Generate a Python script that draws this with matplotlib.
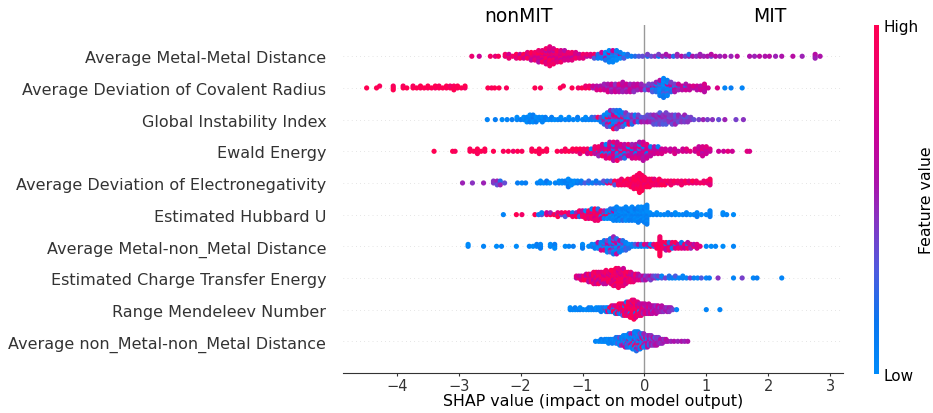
import numpy as np
import matplotlib
matplotlib.use("Agg")
import matplotlib.pyplot as plt
from matplotlib.colors import LinearSegmentedColormap
import matplotlib as mpl

features = [
    "Average Metal-Metal Distance",
    "Average Deviation of Covalent Radius",
    "Global Instability Index",
    "Ewald Energy",
    "Average Deviation of Electronegativity",
    "Estimated Hubbard U",
    "Average Metal-non_Metal Distance",
    "Estimated Charge Transfer Energy",
    "Range Mendeleev Number",
    "Average non_Metal-non_Metal Distance",
]

# Each entry: (SHAP value, [normalized feature values of the samples read at that SHAP value])
ammd = [(-2.79,[.85]),(-2.67,[.7]),(-2.49,[.9]),(-2.41,[.8]),(-2.36,[.95]),
 (-2.25,[.8,.9]),(-2.19,[.95,.7,.85]),(-2.13,[.9]),(-2.07,[.75,1,.8]),(-2.01,[.85,.65,.95]),(-1.95,[.9,1,.75]),
 (-1.89,[.85,.6,.95,.8]),(-1.83,[.7,.9,.8,1,.65]),(-1.77,[.95,.8,.7,.9,.85]),(-1.71,[.8,.9,.7,1,.75,.85,.6]),
 (-1.65,[.9,.75,.85,1,.7,.8,.95]),(-1.59,[.8,.7,.9,.85,1,.6,.75,.9,.8]),(-1.53,[.85,.95,.7,.8,.9,.65,1,.75,.85,.8,.9]),
 (-1.47,[.9,.8,.7,.85,.95,.6,.8,.75,.9]),(-1.41,[.8,.9,.75,.85,.7,.95,.8]),(-1.35,[.85,.7,.9,.8,.65,.75,.9]),
 (-1.29,[.8,.9,.7,.85,.75,.6]),(-1.23,[.9,.8,.7,.85,.75]),(-1.17,[.75,.85,.6,.9,.8]),(-1.11,[.8,.7,.9,.75]),
 (-1.05,[.85,.65,.8]),(-0.99,[.7,.9,.8]),(-0.93,[.6,.85]),(-0.87,[.7,.8]),(-0.81,[.55,.9,.3]),(-0.75,[.6,.2,.1]),
 (-0.69,[.05,.3,.1,.7]),(-0.63,[.1,.05,.6,.0,.2]),(-0.57,[.0,.1,.05,.8,.15,.0,.05]),(-0.51,[.05,.0,.1,.2,.0,.7,.05]),
 (-0.45,[.1,.0,.05,.3,.0,.1]),(-0.39,[.05,.7,.0,.1]),(-0.33,[.1,.0,.3]),(-0.27,[.05,.2]),(-0.21,[.1]),(-0.15,[.2]),
 (-0.09,[.3]),(-0.03,[.35]),(0.05,[.2,.4]),(0.11,[.35]),(0.17,[.45]),(0.23,[.1,.4]),(0.29,[.5]),(0.35,[.35,.55]),
 (0.41,[.55]),(0.47,[.2]),(0.53,[.45,.5]),(0.6,[.6]),(0.66,[.4]),(0.72,[.5,.2]),(0.78,[.55]),(0.84,[.45]),(0.9,[.6,.5]),
 (0.96,[.5]),(1.02,[.55]),(1.08,[.4,.6]),(1.15,[.6]),(1.22,[.5]),(1.3,[.55]),(1.4,[.5]),(1.5,[.6]),(1.7,[.55]),
 (1.78,[.5]),(1.86,[.6]),(1.95,[.55]),(2.02,[.6]),(2.12,[.5]),(2.22,[.55]),(2.4,[.6]),(2.55,[.5]),(2.76,[.55,.6,.5]),(2.84,[.55])]

adcr = [(-4.49,[1]),(-4.33,[1]),(-4.28,[.95]),(-4.06,[1,.95,1]),(-3.9,[1,.95]),(-3.84,[1]),(-3.74,[1,.95]),(-3.68,[1]),
 (-3.62,[.95,1]),(-3.56,[1]),(-3.5,[.95,1]),(-3.44,[1]),(-3.38,[.9,1]),(-3.32,[1,.95]),(-3.26,[1]),(-3.2,[.95,1]),
 (-3.14,[1,.9]),(-3.08,[1,.95,1]),(-3.02,[.95,1]),(-2.96,[1]),(-2.9,[.9,1]),
 (-2.53,[1]),(-2.47,[.95]),(-2.42,[1]),(-2.35,[1]),(-2.23,[.95]),(-1.77,[1]),(-1.68,[.95]),(-1.36,[1]),(-1.31,[.95]),
 (-1.17,[1]),(-1.07,[.9]),(-1.01,[1]),(-0.95,[.95,.85]),(-0.89,[1,.9]),
 (-0.83,[.5,.7]),(-0.77,[.45,.6,.75]),(-0.71,[.5,.55,.8]),(-0.65,[.45,.6,.7,.5]),(-0.59,[.5,.4,.65,.55,.75]),
 (-0.53,[.5,.6,.45,.7,.55]),(-0.47,[.75,.5,.6,.45,.7]),(-0.41,[.55,.65,.5,.8,.6]),(-0.35,[.45,.7,.55,.65,.5,.6]),
 (-0.29,[.8,.6,.45,.7,.55]),(-0.23,[.55,.6,.75,.5,.65]),(-0.17,[.5,.7,.55,.6,.45]),(-0.11,[.6,.75,.5,.65]),
 (-0.05,[.7,.55,.6,.5]),(0.01,[.6,.45,.3]),(0.07,[.7,.2,.55,.4]),(0.13,[.1,.65,.05,.4,.3]),(0.19,[.0,.6,.1,.05,.2,.5]),
 (0.25,[.0,.1,.05,.3,.0,.15,.05,.6,.1]),(0.31,[.0,.05,.1,.0,.2,.05,.3,.0,.1,.05,.15]),(0.37,[.05,.0,.1,.7,.05,.0,.3,.1,.05]),
 (0.43,[.1,.55,.05,.65,.2,.4]),(0.49,[.6,.05,.7,.4,.55]),(0.55,[.65,.2,.5,.7]),(0.61,[.4,.7,.6]),(0.67,[.6,.1,.7,.55]),
 (0.73,[.5,.7,.65]),(0.79,[.55,.75]),(0.85,[.65,.7,.6]),(0.91,[.75,.6,.7]),(0.97,[.8,.65,.7,.75,.6]),(1.03,[.7]),
 (1.18,[.75]),(1.3,[.05]),(1.4,[.1]),(1.58,[.05])]

gii = [(-2.54,[.05]),(-2.41,[.1]),(-2.3,[0]),(-2.22,[.05]),(-2.14,[.1]),(-2.06,[.05,0]),(-2.0,[.1]),(-1.95,[.05,0]),
 (-1.9,[.1,.05,0]),(-1.85,[0,.05,.1,0]),(-1.8,[.05,.15,0,.1]),(-1.75,[.05,0,.1]),(-1.7,[0,.05]),(-1.65,[.1,0,.05]),
 (-1.6,[.05,.1]),(-1.55,[0]),(-1.5,[.05,.1]),(-1.45,[0]),(-1.4,[.05]),(-1.35,[.1,0]),(-1.28,[.05]),(-1.22,[.1,0]),
 (-1.15,[.05]),(-1.08,[0,.1]),(-1.0,[.05]),(-0.95,[.1,0]),(-0.9,[.05]),(-0.85,[.1,.2]),(-0.8,[.05,.3]),(-0.75,[.1,.9]),
 (-0.7,[.05,.4,.1]),(-0.65,[.9,.1,.5,.05,.2]),(-0.6,[.05,1,.3,.1,.6,.0,.4]),(-0.55,[.1,.7,.05,.35,.9,.0,.2,.5]),
 (-0.5,[.0,.45,.1,.8,.05,.6,.15,.3,1]),(-0.45,[.1,.5,.05,.9,.3,.0,.7,.2,.4]),(-0.4,[.05,.6,.35,.0,.8,.15,.5,.1]),
 (-0.35,[.2,.9,.05,.4,.6,.1,.3]),(-0.3,[.5,.1,.7,.35,.05,.45]),(-0.25,[.4,.05,.6,.3,.9]),(-0.2,[.1,.5,.35,.45,.2]),
 (-0.15,[.45,.3,.6,.1]),(-0.1,[.35,.5,.2,.4]),(-0.05,[.4,.3,.55]),(0.0,[.45,.35,.5]),(0.05,[.3,.4,.55,.35]),
 (0.1,[.45,.35,.5,.4]),(0.15,[.4,.3,.45,.5,.35]),(0.2,[.35,.5,.4,.45,.3]),(0.25,[.45,.4,.35,.55,.4,.3]),
 (0.3,[.4,.5,.35,.45,.3]),(0.35,[.35,.45,.4,.5,.3,.4]),(0.4,[.5,.35,.45,.4]),(0.45,[.3,.4,.5,.45,.35]),
 (0.5,[.45,.35,.4,.3,.5]),(0.55,[.4,.45,.35,.5]),(0.6,[.35,.4,.45]),(0.65,[.45,.3,.4,.5]),(0.7,[.4,.35,.45]),
 (0.75,[.45,.4]),(0.8,[.35]),(0.88,[.4]),(0.95,[.5]),(1.02,[.4]),(1.1,[.45]),(1.2,[.35]),(1.3,[.5]),(1.48,[.4]),(1.6,[.45])]

ewald = [(-3.4,[1]),(-3.1,[1]),(-3.06,[.95]),(-2.82,[1,.95]),(-2.76,[1]),(-2.7,[.9,1,.95]),(-2.64,[1]),(-2.58,[.95,1]),
 (-2.44,[1]),(-2.28,[.95]),(-2.2,[1]),(-2.12,[.9]),(-2.05,[1]),(-1.98,[.95]),(-1.82,[1,.95]),(-1.76,[1]),(-1.7,[.9,1,.95]),
 (-1.64,[1]),(-1.58,[.95,1]),(-1.41,[1]),(-1.34,[.9]),(-1.28,[1,.95]),(-1.22,[1]),(-1.16,[.85,1]),(-1.1,[.9,1]),
 (-1.04,[.95,1,.8]),(-0.98,[1,.9]),(-0.92,[.85,.95,.7]),(-0.86,[.8,.1,.9]),(-0.8,[.7,.95,.6,.85]),(-0.74,[.2,.8,.7,.9,.5]),
 (-0.68,[.85,.6,.1,.75,.95,.7]),(-0.62,[.7,.9,.3,.6,.8,.05,.75]),(-0.56,[.65,.85,.1,.7,.5,.8,.9,.6]),
 (-0.5,[.75,.2,.7,.55,.8,.1,.65,.85,.6]),(-0.44,[.6,.8,.05,.7,.45,.75,.15,.65,.9]),(-0.38,[.7,.3,.85,.6,.1,.75,.5]),
 (-0.32,[.65,.8,.1,.7,.55,.6,.2]),(-0.26,[.6,.75,.45,.1,.7,.8]),(-0.2,[.7,.15,.65,.8,.6,.5,.75]),
 (-0.14,[.75,.6,.1,.7,.65,.55,.8]),(-0.08,[.6,.3,.7,.8,.65,.1,.75,.55]),(-0.02,[.7,.6,.75,.1,.65,.8,.55,.7,.6]),
 (0.04,[.65,.75,.15,.7,.6,.8,.7]),(0.1,[.7,.6,.75,.1,.65]),(0.16,[.8,.65,.7,.6]),(0.22,[.7,.65,.75,.1]),(0.28,[.6,.7,.75]),
 (0.34,[.75,.7]),(0.42,[.7,.65]),(0.49,[.8,.7,.75]),(0.55,[.65]),(0.62,[.75,.7]),(0.68,[.7,.8]),(0.74,[.8]),
 (0.82,[.65,.75]),(0.88,[.75,.7,.8,.65]),(0.94,[.7,.8,.6,.75,.7]),(1.0,[.75,.65,.7,.8]),(1.06,[.65,.75]),(1.2,[.7]),
 (1.28,[.7]),(1.35,[.8]),(1.42,[.7]),(1.66,[.8]),(1.7,[.75])]

ade = [(-2.94,[.5]),(-2.78,[.45]),(-2.6,[.5]),(-2.44,[.4,.45]),(-2.38,[.3,.5,.35]),(-2.33,[.45,.2,.5]),(-2.26,[.35]),
 (-2.05,[.1]),(-1.98,[.05]),(-1.92,[.1]),(-1.73,[.05]),(-1.68,[.1,0]),(-1.63,[0]),(-1.58,[.05,.15]),(-1.53,[0]),
 (-1.44,[.05]),(-1.38,[.1,0]),(-1.33,[0,.05]),(-1.28,[.05,.1]),(-1.23,[0,.1,.05,0,.15]),(-1.18,[.1,.05,0]),
 (-1.13,[.05,0]),(-1.08,[.15,.05]),(-1.02,[.2,.1]),(-0.96,[.3]),(-0.9,[.05,.25]),(-0.84,[.1]),(-0.78,[.3,.15]),
 (-0.72,[.2]),(-0.66,[.1,.35]),(-0.6,[.8,.2]),(-0.54,[.95,.3]),(-0.48,[.9,1,.3]),(-0.42,[1,.85,.95]),
 (-0.37,[1,.9,.95,.85]),(-0.32,[.95,1,.9]),(-0.27,[1,.85,.95,1]),(-0.22,[.9,1,.95,.85,1]),(-0.17,[1,.95,.9,1,.85,1,.9]),
 (-0.12,[.95,1,.9,1,.85,.95,1,.9]),(-0.08,[1,.9,.95,1,.85,1,.95,.9,1,.95,1]),(-0.04,[.9,1,.95,.85,1,.9,1,.95,1]),
 (0.0,[1,.95,.85,1,.9,.95]),(0.04,[.9,1,.85,.95,1]),(0.08,[1,.85,.95,.9,1]),(0.12,[.8,1,.9,.95]),(0.16,[.85,1,.9,.8]),
 (0.2,[1,.9,.85]),(0.24,[.75,.95,.9,1]),(0.28,[.9,.85,1]),(0.33,[.85,.9,1]),(0.38,[.75,.95]),(0.43,[1,.85,.9]),
 (0.48,[.85,.95]),(0.54,[.8,.9]),(0.6,[1,.85,.9]),(0.66,[.85,.95]),(0.72,[.95,.8]),(0.78,[.8,1]),(0.84,[.85,.9]),
 (0.9,[.9]),(0.96,[.95,.85]),(1.02,[.8,.9]),(1.06,[.85,.9,.8,.95])]

ehu = [(-2.28,[.05]),(-2.07,[1]),(-1.98,[.9]),(-1.77,[1]),(-1.71,[.1]),(-1.66,[.3,.05]),(-1.58,[.9,.7]),(-1.52,[1,.5]),
 (-1.46,[.95]),(-1.4,[.2,.8,1]),(-1.34,[.4,.9]),(-1.28,[.6,1,.3]),(-1.22,[.95,.8]),(-1.16,[1,.1,.9]),(-1.1,[.85,.5,1]),
 (-1.05,[.95,.7,.2,.9]),(-1.0,[1,.8,.9,.6]),(-0.95,[.9,1,.85,.05,.95]),(-0.9,[1,.7,.9,.95,.8]),
 (-0.85,[.95,.6,1,.85,.9,.1]),(-0.8,[1,.9,.8,.95,.7,1,.85]),(-0.75,[.9,.95,1,.6,.85,.2,.9]),(-0.7,[1,.85,.05,.9,.7]),
 (-0.65,[.8,.1,.95,.5,.05]),(-0.6,[1,.05,.9,.1,0]),(-0.55,[.05,.8,0,.1,.05,.2]),(-0.5,[0,.1,.05,.7,0,.15,.05]),
 (-0.45,[.05,0,.1,.05,0,.2,.1,.05]),(-0.4,[0,.1,.05,0,.15,.05,0]),(-0.35,[.05,0,.1,.05,0,.1,.2]),
 (-0.3,[0,.05,.1,0,.05,.1,0,.05]),(-0.25,[.1,0,.05,.15,0,.05,.1]),(-0.2,[0,.05,.1,0,.05,0,.1,.05]),
 (-0.15,[.05,0,.1,.05,0,.15,.05]),(-0.1,[0,.05,.1,0,.05,.1,0,.05,.1]),(-0.05,[.05,0,.1,.05,0,.05,.1,0]),
 (0.0,[.1,0,.05,0,.05,.1,0,.05,.1]),(0.04,[0,.05,.1,0,.05,0,.1,.05,0,.05,.1]),(0.09,[.05,0]),(0.14,[.05]),(0.2,[.1,0]),
 (0.26,[0]),(0.32,[.05]),(0.38,[0,.05]),(0.44,[.1]),(0.5,[.05,0]),(0.56,[0]),(0.62,[.05]),(0.68,[.1,.05]),(0.74,[0]),
 (0.8,[.05]),(0.85,[0,.05,.1]),(0.92,[0]),(1.0,[.05]),(1.06,[0,.05,.1,.05]),(1.27,[.05,0]),(1.33,[.05]),(1.44,[0])]

amnmd = [(-2.85,[.05,0]),(-2.6,[.05]),(-2.39,[0]),(-2.31,[.05]),(-2.07,[0]),(-1.86,[.05]),(-1.8,[0]),(-1.74,[.05,.1]),
 (-1.68,[0,.05,.1]),(-1.52,[.05,0]),(-1.45,[.05,.1,0]),(-1.28,[0]),(-1.22,[.05]),(-1.15,[.1]),(-1.0,[.05,0,.1]),
 (-0.9,[0]),(-0.85,[.1,.05]),(-0.8,[.4,0,.1]),(-0.75,[.05,.2,0,.6]),(-0.7,[.3,.05,0,.1,.7]),(-0.65,[.1,.45,0,.05,.8,.15]),
 (-0.6,[.05,.5,0,.65,.1,.4,.05]),(-0.55,[.1,.55,0,.2,.7,.05,.35,.1]),(-0.5,[0,.6,.1,.05,.45,.8,0,.3,.15,.5]),
 (-0.45,[.05,.4,0,.7,.1,.55,.05,.2,.65]),(-0.4,[.1,.05,.5,0,.35,.6,.1]),(-0.35,[.05,.3,0,.45,.1,.2]),
 (-0.3,[0,.1,.35,.05,.25]),(-0.25,[.05,0,.2]),(-0.2,[.1,.05]),(-0.15,[0,.3]),(-0.1,[.05,.6]),(-0.05,[.1,.2]),
 (0.0,[.05,.8]),(0.05,[.1,.6]),(0.1,[.9,.05]),(0.15,[.2,.8]),(0.2,[.9,1,.95]),(0.25,[1,.95,1,.9,1,.85,1,.95,1,.9,1]),
 (0.3,[.7,1,.9,.95]),(0.35,[.9,.1,.8,1,.6]),(0.4,[.8,.6,.95,.2,.9]),(0.45,[.95,.7,.1,.85]),(0.5,[.9,.2,.75,1]),
 (0.55,[.75,.6,.9]),(0.6,[.9,.5,.8,.1]),(0.65,[.5,.85,.7]),(0.7,[.85,.1,.9,.6]),(0.75,[.7,.8,.5]),(0.8,[.9,.6]),
 (0.85,[.6,.8,.75]),(0.9,[.8]),(1.0,[.05]),(1.08,[0]),(1.15,[.05]),(1.27,[0]),(1.44,[.05])]

ecte = [(-1.1,[.6,.8]),(-1.06,[.9,.7]),(-1.02,[.95,.6,.8]),(-0.98,[.7,.9,1]),(-0.94,[.85,.55,1,.7]),
 (-0.9,[.9,.65,.8,.95,.6]),(-0.86,[1,.75,.85,.6,.9]),(-0.82,[.8,.95,.7,1,.65,.9,.85]),(-0.78,[.9,.6,1,.8,.75,.95,.7]),
 (-0.74,[.85,1,.7,.9,.6,.8,.95]),(-0.7,[.75,.9,.85,1,.65,.8]),(-0.66,[1,.8,.9,.7,.95,.85,.6]),
 (-0.62,[.9,.7,1,.8,.85,.95,.65,.9]),(-0.58,[.8,1,.9,.7,.95,.85]),(-0.54,[.95,.75,1,.85,.9,.7,.8,1]),
 (-0.5,[.85,1,.7,.9,.8,.95,.75,1,.9]),(-0.46,[1,.8,.9,.95,.7,.85,1,.9,.75,.95]),
 (-0.42,[.9,.75,1,.85,.95,.8,1,.7,.9,.85,.95]),(-0.38,[.8,1,.9,.7,.95,.85,1,.8,.9]),
 (-0.34,[.95,.85,1,.75,.9,.8,1,.9,.85,.7]),(-0.3,[.85,.9,.7,1,.8,.95,.75]),(-0.26,[.9,1,.8,.7,.85,.95]),
 (-0.22,[.75,.85,.95,.6,.9,.8]),(-0.18,[.9,.7,.8,.6,.85]),(-0.14,[.6,.85,.75,.9]),(-0.1,[.7,.55,.8,.65]),
 (-0.06,[.6,.5,.75]),(-0.02,[.5,.65,.45]),(0.02,[.55,.4,.6]),(0.06,[.45,.5]),(0.1,[.35,.6,.4]),(0.14,[.5,.4]),
 (0.18,[.45,.3]),(0.22,[.1,.4]),(0.28,[.3,.05]),(0.34,[.4]),(0.4,[.05,.2]),(0.45,[.1]),(0.5,[.05,.3]),(0.56,[.05]),
 (0.62,[.1,.05]),(0.68,[.05]),(0.74,[.4]),(0.8,[.1]),(0.86,[.05]),(0.92,[.3]),(1.0,[.05]),(1.05,[.1]),(1.19,[.45]),
 (1.44,[.05]),(1.58,[.4]),(1.76,[.05]),(1.82,[.1]),(2.22,[.05])]

rmn = [(-1.2,[.05,0]),(-1.16,[.05]),(-1.12,[0,.1]),(-1.08,[.05]),(-1.04,[.1,0]),(-0.99,[.05]),(-0.94,[0]),(-0.9,[.05,.1]),
 (-0.86,[0,.05]),(-0.82,[.1]),(-0.78,[.05,0]),(-0.74,[.1,.05]),(-0.7,[0,.05,.1]),(-0.66,[.05,.2]),(-0.62,[.9,0,.1]),
 (-0.59,[1,.05,.8]),(-0.56,[.2,.95,.05]),(-0.53,[1,.7,.1,.9]),(-0.5,[.85,.05,1,.6]),(-0.47,[.95,.3,1,.8,.1]),
 (-0.44,[1,.9,.05,.75,.95]),(-0.41,[.8,1,.6,.9,.2,1]),(-0.38,[.95,.85,1,.7,.05,.9]),(-0.35,[1,.9,.6,.95,.8,1,.3]),
 (-0.32,[.85,1,.95,.1,.9,.75,1]),(-0.29,[1,.9,.8,.95,.6,1,.85,.05]),(-0.26,[.9,1,.7,.95,.85,1,.8,.9]),
 (-0.23,[1,.85,.95,.9,.2,1,.75,.9,.95]),(-0.2,[.95,1,.9,.8,1,.85,.95,.6,1,.9]),
 (-0.17,[1,.9,.95,.85,1,.7,.9,1,.95,.8,1]),(-0.14,[.9,1,.8,.95,.1,1,.85,.9,.75]),(-0.11,[.85,.95,1,.7,.9,.6,1,.8]),
 (-0.08,[.9,.75,.05,1,.85,.6,.8]),(-0.05,[.8,.65,.95,.7,.9,.6,.85]),(-0.02,[.75,.9,.6,.8,.5,.7]),
 (0.01,[.6,.85,.7,.5,.8,.65]),(0.04,[.7,.55,.8,.6,.75]),(0.07,[.5,.75,.6,.8,.55,.7]),(0.1,[.65,.5,.7,.6,.75]),
 (0.13,[.55,.7,.45,.65,.6]),(0.16,[.6,.5,.7,.55]),(0.19,[.7,.55,.6,.45,.65]),(0.22,[.5,.6,.55,.7]),(0.25,[.6,.45,.55]),
 (0.28,[.55,.65,.5,.6]),(0.31,[.5,.6,.45]),(0.34,[.55,.5]),(0.37,[.6,.45,.55]),(0.4,[.5,.55,.45]),(0.43,[.45,.5]),
 (0.46,[.4]),(0.52,[.05]),(1.0,[.05]),(1.22,[.05])]

anmnmd = [(-0.79,[.05]),(-0.74,[0]),(-0.7,[.05,.1]),(-0.67,[0]),(-0.64,[.05,.1]),(-0.61,[0,.05]),(-0.58,[.1,0,.05]),
 (-0.55,[.05,.1]),(-0.52,[0,.05,.1]),(-0.49,[.05,0]),(-0.46,[.1,.05,0,.2]),(-0.43,[0,.05,.3,.1]),(-0.4,[.05,.1,0,.4,.05]),
 (-0.37,[0,.2,.05,.1,.5]),(-0.34,[.1,0,.3,.05,.6,.05]),(-0.31,[.05,.4,0,.1,.2,.05,.7]),(-0.28,[0,.1,.5,.05,.3,0,.15]),
 (-0.25,[.05,.6,.1,0,.4,.05,.2,.1]),(-0.22,[.1,0,.35,.05,.8,.1,0,.5]),(-0.19,[0,.05,.9,.1,.3,0,.05,.6,.1]),
 (-0.16,[.05,.7,0,.1,.45,.05,1,.2,0,.1]),(-0.13,[.1,0,.5,.05,.95,.3,0,.1,.6,.05,.2]),
 (-0.1,[.05,.4,0,.1,.85,.05,.3,0,.5,.1]),(-0.07,[0,.6,.1,.05,.9,.2,0,.4,.1]),(-0.04,[.1,.3,.05,.7,0,.5,.95,.1]),
 (-0.01,[.05,.8,.4,.1,.6,.3,0,.5]),(0.02,[.4,.1,.6,.9,.3,.5,.05]),(0.05,[.5,.3,.7,.1,.55,.4,.6]),
 (0.08,[.45,.6,.35,.5,.2,.55]),(0.11,[.5,.4,.6,.3,.55,.45]),(0.14,[.55,.35,.5,.6,.4]),(0.17,[.45,.6,.5,.3,.55]),
 (0.2,[.5,.4,.55,.45,.6]),(0.23,[.55,.45,.5,.4]),(0.26,[.5,.6,.45]),(0.29,[.4,.55,.5]),(0.32,[.55,.45]),(0.35,[.5,.6]),
 (0.38,[.55]),(0.43,[.5]),(0.48,[.55]),(0.54,[.5]),(0.6,[.55]),(0.65,[.5]),(0.7,[.55])]

rows = [ammd, adcr, gii, ewald, ade, ehu, amnmd, ecte, rmn, anmnmd]
xticks = [-4, -3, -2, -1, 0, 1, 2, 3]

cmap = LinearSegmentedColormap.from_list("shap_red_blue", [
    (0.0, (0/255, 139/255, 250/255)),
    (0.15, (10/255, 118/255, 240/255)),
    (0.3, (80/255, 90/255, 222/255)),
    (0.45, (138/255, 50/255, 192/255)),
    (0.55, (172/255, 18/255, 170/255)),
    (0.7, (205/255, 0/255, 148/255)),
    (0.85, (236/255, 0/255, 112/255)),
    (1.0, (255/255, 0/255, 82/255)),
])

fig = plt.figure(figsize=(9.33, 4.14), dpi=100)
ax = fig.add_axes([343/933, 40/414, 500/933, 348.4/414])

N = len(features)
row_height = 0.4
for i, entries in enumerate(rows):
    pos = N - 1 - i
    shaps = np.array([x for x, cs in entries for _ in cs], dtype=float)
    vals = np.array([c for x, cs in entries for c in cs], dtype=float)
    ax.axhline(y=pos, color="#cccccc", lw=0.5, dashes=(1, 5), zorder=-1)
    nbins = 100
    quant = np.round(nbins * (shaps - shaps.min()) / (shaps.max() - shaps.min() + 1e-8))
    inds = np.argsort(quant, kind="stable")
    layer = 0
    last_bin = -1
    ys = np.zeros(len(shaps))
    for ind in inds:
        if quant[ind] != last_bin:
            layer = 0
        ys[ind] = np.ceil(layer / 2) * ((layer % 2) * 2 - 1)
        layer += 1
        last_bin = quant[ind]
    ys *= 0.9 * (row_height / np.max(ys + 1))
    ax.scatter(shaps, pos + ys, c=vals, cmap=cmap, vmin=0, vmax=1, s=14,
               linewidth=0, alpha=1, zorder=3)

ax.axvline(0, color="#999999", lw=1, zorder=-1)
ax.set_xlim(-4.872, 3.21)
ax.set_ylim(-1, N)
ax.set_yticks(range(N))
ax.set_yticklabels(features[::-1], fontsize=11.5, color="#333333")
ax.tick_params(axis="y", length=0, pad=12)
ax.set_xticks(xticks)
ax.set_xticklabels([f"{t}".replace("-", "\u2212") for t in xticks])
ax.tick_params(axis="x", labelsize=10.5, color="#333333", labelcolor="#333333",
               length=2, pad=1.5)
ax.set_xlabel("SHAP value (impact on model output)", fontsize=11.4, labelpad=0)
for s in ["left", "right", "top"]:
    ax.spines[s].set_visible(False)
ax.spines["bottom"].set_color("#333333")

ax.text(-2.03, 10.1, "nonMIT", ha="center", va="baseline", fontsize=13.5)
ax.text(2.03, 10.1, "MIT", ha="center", va="baseline", fontsize=13.5)

cax = fig.add_axes([874/933, 39/414, 5/933, 349/414])
cb = mpl.colorbar.ColorbarBase(cax, cmap=cmap, norm=mpl.colors.Normalize(0, 1), ticks=[0, 1])
cb.set_ticklabels(["Low", "High"])
cb.ax.tick_params(labelsize=11, length=0)
cb.outline.set_visible(False)
cb.set_label("Feature value", size=11.3, labelpad=0)

fig.savefig("out.png", dpi=100)
